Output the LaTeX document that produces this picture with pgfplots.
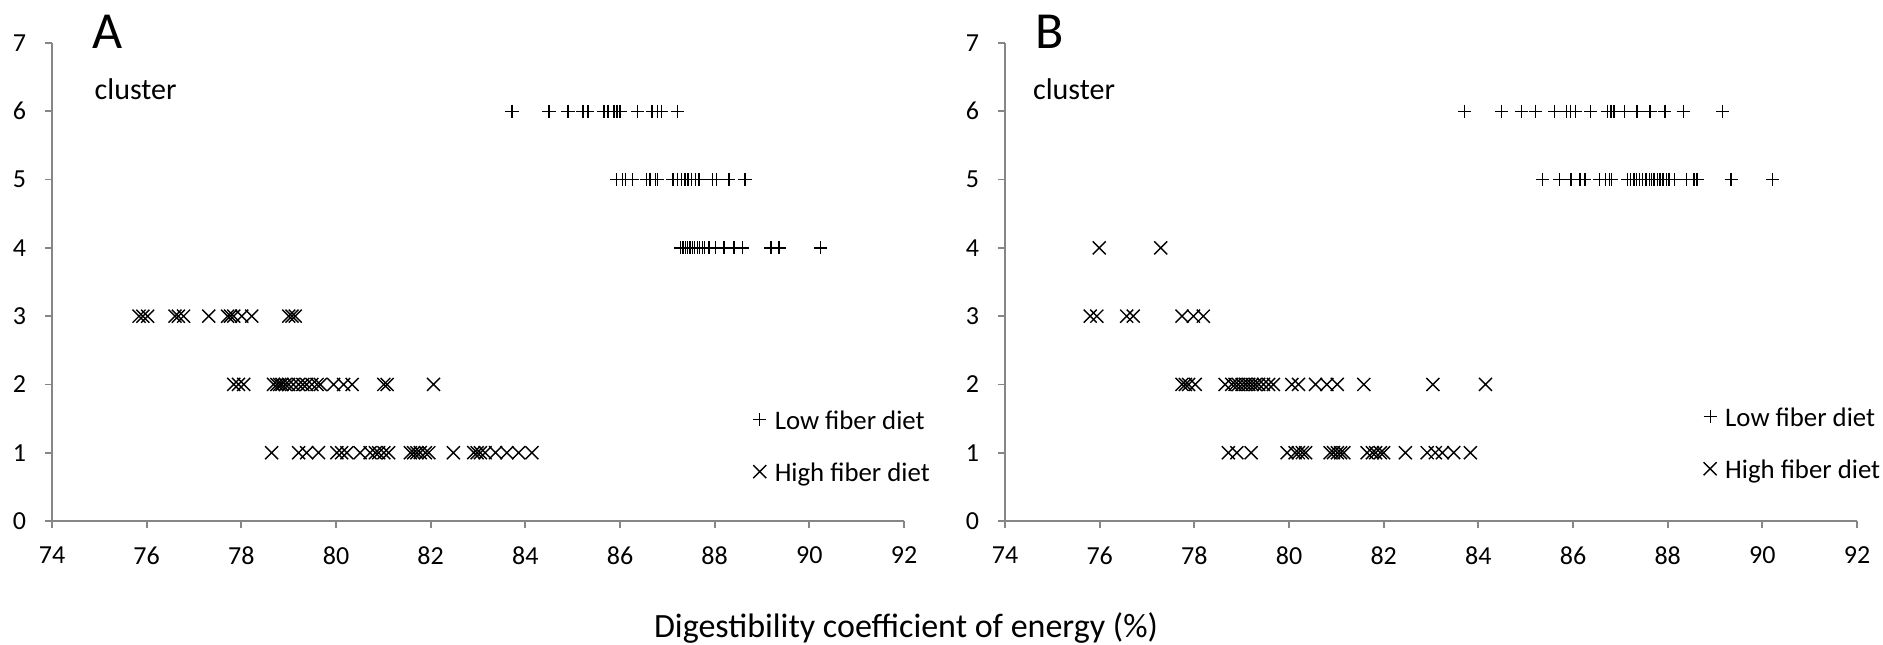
\documentclass[border=0pt]{standalone}
\usepackage{pgfplots}
\pgfplotsset{compat=1.18}
\usepackage{fontspec}
\setmainfont{Carlito}
\definecolor{axgray}{RGB}{134,134,134}

\pgfplotsset{
  panel/.style={
    scale only axis, width=426pt, height=239pt,
    xmin=74, xmax=92, ymin=0, ymax=7,
    xtick={74,76,...,92}, ytick={0,1,...,7},
    axis lines*=left,
    axis line style={draw=axgray, line width=0.9pt},
    tick style={draw=axgray, line width=0.9pt},
    tick align=outside, major tick length=3.5pt,
    /pgf/number format/assume math mode=true,
    ticklabel style={font=\fontsize{13}{15}\selectfont, text=black},
    xticklabel style={yshift=-6pt},
    yticklabel style={xshift=-6pt},
    clip=false,
    legend cell align=left,
    legend style={draw=none, fill=none, inner sep=0pt,
      font=\fontsize{13.4}{15}\selectfont, row sep=12pt,
      nodes={inner sep=0pt, text height=9pt, text depth=3pt},
      /tikz/every odd column/.append style={column sep=4pt}},
    legend image code/.code={\path[draw=none,fill=none] (-3.5pt,0pt) (3.5pt,8pt);
      \draw[mark repeat=2,mark phase=2,##1] plot coordinates {(-3.5pt,2pt) (0pt,2pt) (3.5pt,2pt)};},
  },
  lowm/.style={only marks, mark=+, mark size=3.3pt, black, mark options={line width=0.7pt}},
  highm/.style={only marks, mark=x, mark size=4.6pt, black, mark options={line width=0.7pt}},
}

\begin{document}
\begin{tikzpicture}
\useasboundingbox (-26pt,-61.5pt) rectangle (915.5pt,260.5pt);

% ---------------- Panel A ----------------
\begin{axis}[panel, at={(0pt,0pt)}, anchor=south west,
  legend style={at={(0.822,0.238)}, anchor=north west}]
\addplot[lowm] coordinates {
 (83.72,6) (84.50,6) (84.90,6) (85.22,6) (85.32,6) (85.66,6) (85.75,6) (85.87,6)
 (85.94,6) (86.00,6) (86.37,6) (86.68,6) (86.79,6) (86.88,6) (87.21,6)
 (85.93,5) (86.05,5) (86.12,5) (86.26,5) (86.56,5) (86.63,5) (86.75,5) (86.79,5)
 (87.12,5) (87.21,5) (87.30,5) (87.37,5) (87.44,5) (87.51,5) (87.60,5) (87.67,5)
 (87.95,5) (88.04,5) (88.30,5) (88.64,5)
 (87.28,4) (87.33,4) (87.38,4) (87.43,4) (87.48,4) (87.53,4) (87.58,4) (87.64,4)
 (87.68,4) (87.74,4) (87.79,4) (87.88,4) (88.02,4) (88.20,4) (88.41,4) (88.59,4)
 (89.19,4) (89.36,4) (90.24,4)
};
\addlegendentry{Low fiber diet}
\addplot[highm] coordinates {
 (75.84,3) (75.92,3) (76.02,3) (76.60,3) (76.67,3) (76.78,3) (77.31,3) (77.71,3)
 (77.77,3) (77.84,3) (78.01,3) (78.22,3) (79.00,3) (79.07,3) (79.14,3)
 (77.84,2) (77.94,2) (78.05,2) (78.68,2) (78.75,2) (78.81,2) (78.86,2) (78.93,2)
 (79.00,2) (79.10,2) (79.21,2) (79.30,2) (79.38,2) (79.49,2) (79.60,2) (79.67,2)
 (79.95,2) (80.16,2) (80.34,2) (81.01,2) (81.08,2) (82.06,2)
 (78.64,1) (79.21,1) (79.38,1) (79.63,1) (80.02,1) (80.12,1) (80.23,1) (80.51,1)
 (80.72,1) (80.83,1) (80.90,1) (81.01,1) (81.11,1) (81.57,1) (81.64,1) (81.71,1)
 (81.78,1) (81.89,1) (81.96,1) (82.48,1) (82.91,1) (82.98,1) (83.05,1) (83.15,1)
 (83.37,1) (83.61,1) (83.86,1) (84.14,1)
};
\addlegendentry{High fiber diet}
\node[anchor=base west, inner sep=0pt, font=\fontsize{26}{30}\selectfont] at (rel axis cs:0.0466,0.989) {A};
\node[anchor=base west, inner sep=0pt, font=\fontsize{15}{17}\selectfont] at (rel axis cs:0.0497,0.881) {cluster};
\end{axis}

% ---------------- Panel B ----------------
\begin{axis}[panel, at={(476.5pt,0pt)}, anchor=south west,
  legend style={at={(0.819,0.244)}, anchor=north west}]
\addplot[lowm] coordinates {
 (83.71,6) (84.49,6) (84.91,6) (85.21,6) (85.61,6) (85.86,6) (85.95,6) (86.05,6)
 (86.37,6) (86.73,6) (86.80,6) (86.87,6) (87.09,6) (87.35,6) (87.63,6) (87.94,6)
 (88.33,6) (89.16,6)
 (85.36,5) (85.72,5) (85.96,5) (86.15,5) (86.25,5) (86.56,5) (86.68,5) (86.77,5)
 (86.81,5) (87.15,5) (87.22,5) (87.29,5) (87.34,5) (87.40,5) (87.47,5) (87.54,5)
 (87.61,5) (87.66,5) (87.71,5) (87.78,5) (87.84,5) (87.90,5) (87.97,5) (88.03,5)
 (88.15,5) (88.40,5) (88.56,5) (88.62,5) (89.34,5) (90.22,5)
};
\addlegendentry{Low fiber diet}
\addplot[highm] coordinates {
 (75.99,4) (77.29,4)
 (75.80,3) (75.94,3) (76.57,3) (76.71,3) (77.74,3) (77.98,3) (78.19,3)
 (77.74,2) (77.81,2) (77.88,2) (78.02,2) (78.65,2) (78.79,2) (78.86,2) (78.93,2)
 (79.01,2) (79.08,2) (79.15,2) (79.22,2) (79.29,2) (79.36,2) (79.46,2) (79.57,2)
 (79.67,2) (80.06,2) (80.20,2) (80.56,2) (80.80,2) (81.02,2) (81.58,2) (83.04,2)
 (84.15,2)
 (78.72,1) (78.90,1) (79.20,1) (79.96,1) (80.13,1) (80.20,1) (80.28,1) (80.35,1)
 (80.87,1) (80.94,1) (81.02,1) (81.09,1) (81.16,1) (81.65,1) (81.76,1) (81.83,1)
 (81.93,1) (82.00,1) (82.46,1) (82.92,1) (83.09,1) (83.24,1) (83.48,1) (83.83,1)
};
\addlegendentry{High fiber diet}
\node[anchor=base west, inner sep=0pt, font=\fontsize{26}{30}\selectfont] at (rel axis cs:0.035,0.989) {B};
\node[anchor=base west, inner sep=0pt, font=\fontsize{15}{17}\selectfont] at (rel axis cs:0.0326,0.881) {cluster};
\end{axis}

\node[font=\fontsize{17}{19}\selectfont, inner sep=0pt] at (427pt,-53.5pt) {Digestibility coefficient of energy (\%)};
\end{tikzpicture}
\end{document}
